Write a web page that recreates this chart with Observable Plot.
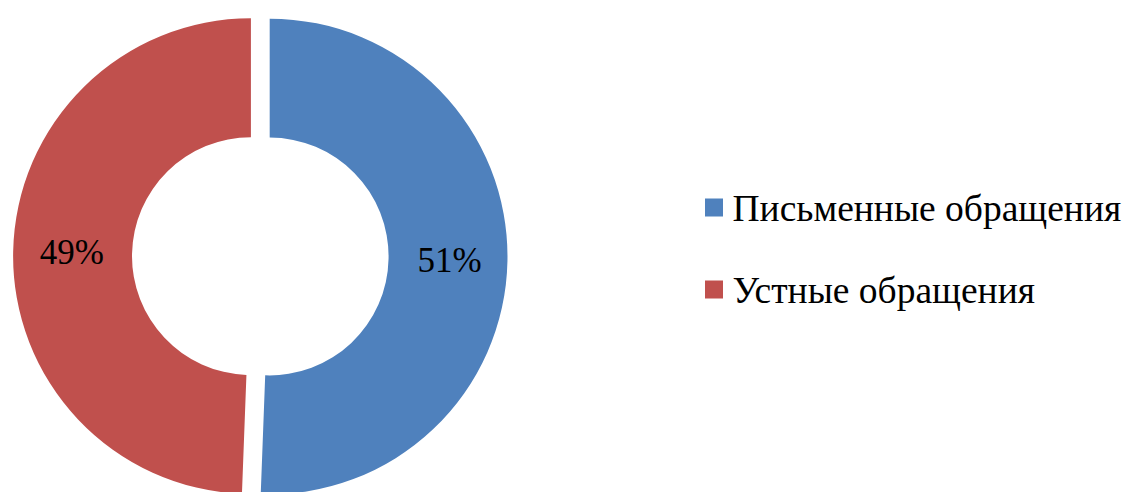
<!DOCTYPE html>
<html>
<head>
<meta charset="utf-8">
<script src="https://cdn.jsdelivr.net/npm/d3@7"></script>
<script src="https://cdn.jsdelivr.net/npm/@observablehq/plot@0.6"></script>
<style>
  body { margin: 0; background: #fff; }
  #wrap { position: relative; width: 1122px; height: 492px; overflow: hidden; }
  #wrap svg { position: absolute; left: 0; top: 0; }
  .serif { font-family: "Liberation Serif", "DejaVu Serif", "Noto Serif", "Times New Roman", Times, serif; }
</style>
</head>
<body>
<div id="wrap" class="serif"></div>
<script>
// ---- data ----
const categories = ["Письменные обращения", "Устные обращения"];
const values = [50.6, 49.4];
const valueLabels = ["51%", "49%"];
const colors = ["#4F81BD", "#C0504D"];

// ---- layout constants ----
const innerRatio = 0.5;     // inner radius / outer radius
const explode = 0.0395;     // slice offset (in outer-radius units)
const FONT = "'Liberation Serif', 'DejaVu Serif', 'Noto Serif', 'Times New Roman', Times, serif";

const rows = categories.map((c, i) => ({category: c, value: values[i], label: valueLabels[i]}));
const arcs = d3.pie().sort(null).value(d => d.value).startAngle(0).endAngle(2 * Math.PI)(rows);
const mid = a => (a.startAngle + a.endAngle) / 2;
const labelR = 0.755;
const labelData = arcs.map(a => ({
  x: (labelR + explode) * Math.sin(mid(a)),
  y: (labelR + explode) * Math.cos(mid(a)),
  text: a.data.label,
  category: a.data.category
}));

const donut = (index, scales) => {
  const cx = scales.x(0);
  const R = scales.x(1) - cx, r = scales.x(innerRatio) - cx;
  const col = scales.color || (c => colors[categories.indexOf(c)]);
  const arc = d3.arc().innerRadius(r).outerRadius(R);
  const g = d3.create("svg:g");
  g.selectAll("path").data(arcs).join("path")
    .attr("d", arc)
    .attr("fill", d => col(d.data.category))
    .attr("transform", d => `translate(${scales.x(explode * Math.sin(mid(d)))},${scales.y(explode * Math.cos(mid(d)))})`);
  return g.node();
};

const chart = Plot.plot({
  width: 1122,
  height: 492,
  margin: 0,
  style: {background: "transparent", fontFamily: FONT},
  x: {type: "linear", domain: [-1, 1], range: [22.5, 498.1], axis: null},
  y: {type: "linear", domain: [-1, 1], range: [494.1, 18.5], axis: null},
  color: {domain: categories, range: colors},
  marks: [
    donut,
    Plot.text(labelData, {x: "x", y: "y", text: "text", fontSize: 35, fill: "#000",
                          textAnchor: "middle", lineAnchor: "middle", fontFamily: FONT})
  ]
});

const wrap = document.getElementById("wrap");
wrap.appendChild(chart);

// legend (swatch colours from the plot's colour scale)
let colorOf = c => colors[categories.indexOf(c)];
try { const s = chart.scale("color"); if (s && s.apply) colorOf = s.apply; } catch (e) {}
const legendBaselines = [221, 303];
const lg = d3.create("svg").attr("width", 1122).attr("height", 492)
  .style("position", "absolute").style("left", "0px").style("top", "0px");
const items = lg.selectAll("g").data(categories).join("g")
  .attr("transform", (c, i) => `translate(705,${legendBaselines[i]})`);
items.append("rect").attr("x", 0).attr("y", -22.5).attr("width", 18).attr("height", 18)
  .attr("fill", c => colorOf(c));
items.append("text").attr("x", 27.5).attr("y", 0)
  .attr("font-family", FONT).attr("font-size", 37.5).attr("fill", "#000")
  .text(c => c);
wrap.appendChild(lg.node());
</script>
</body>
</html>
